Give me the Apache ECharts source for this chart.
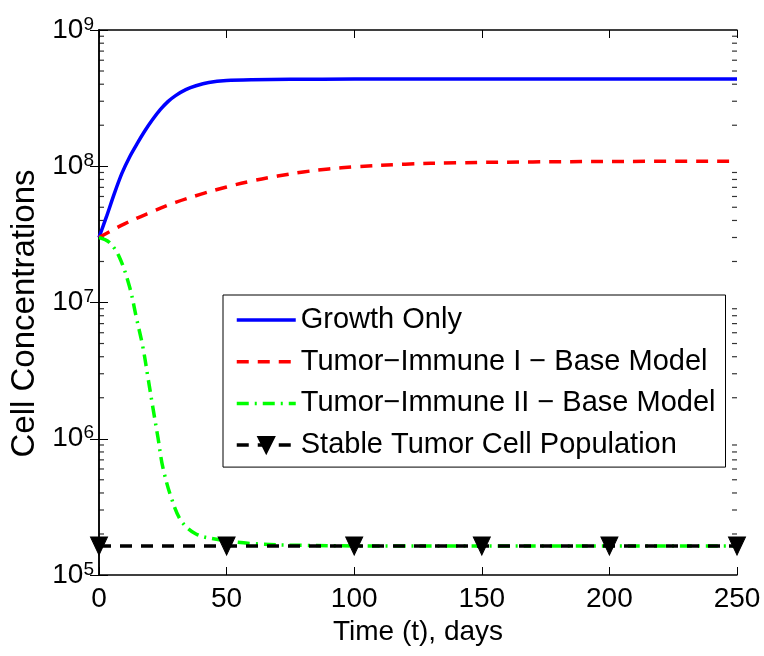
<!DOCTYPE html>
<html>
<head>
<meta charset="utf-8">
<title>Cell Concentrations</title>
<script src="https://cdn.jsdelivr.net/npm/echarts@6/dist/echarts.min.js"></script>
<style>
  html, body { margin: 0; padding: 0; background: #fff; }
  #chart { width: 764px; height: 656px; }
</style>
</head>
<body>
<div id="chart"></div>
<script>
// values (log axis)
const growthT = [0, 3, 6, 9, 12, 15, 18, 21, 24, 27, 30, 34, 38, 43, 50, 60, 75, 100, 250];
const growthN = [3.0e7, 4.3e7, 6.3e7, 8.9e7, 1.17e8, 1.47e8, 1.82e8, 2.2e8, 2.6e8, 2.98e8, 3.3e8, 3.65e8, 3.9e8, 4.12e8, 4.26e8, 4.32e8, 4.35e8, 4.36e8, 4.36e8];

const tumor1T = [0, 10, 20, 30, 40, 50, 60, 70, 80, 90, 100, 120, 140, 170, 200, 250];
const tumor1N = [3.0e7, 3.78e7, 4.57e7, 5.43e7, 6.24e7, 7.05e7, 7.8e7, 8.47e7, 9.08e7, 9.55e7, 9.89e7, 1.035e8, 1.06e8, 1.076e8, 1.084e8, 1.09e8];

const tumor2T = [0, 4, 8, 12, 14.6, 17.2, 19.2, 21.1, 23.1, 25, 28.3, 32.2, 38, 46, 60, 80, 120, 250];
const tumor2N = [3.0e7, 2.77e7, 2.15e7, 1.30e7, 7.8e6, 4.7e6, 2.8e6, 1.7e6, 1.02e6, 6.2e5, 3.7e5, 2.5e5, 2.0e5, 1.83e5, 1.70e5, 1.65e5, 1.63e5, 1.63e5];

const stableT = [0, 50, 100, 150, 200, 250];
const stableN = [1.63e5, 1.63e5, 1.63e5, 1.63e5, 1.63e5, 1.63e5];

const seriesNames = [
  'Growth Only',
  'Tumor\u2212Immune I \u2212 Base Model',
  'Tumor\u2212Immune II \u2212 Base Model',
  'Stable Tumor Cell Population'
];

// minor ticks of the log axis (2..9 x 10^n)
const minorTicks = [];
for (let e = 5; e < 9; e++) {
  for (let m = 2; m <= 9; m++) minorTicks.push(m * Math.pow(10, e));
}

const font = '"Liberation Sans", Arial, Helvetica, sans-serif';
const zip = (xs, ys) => xs.map((x, i) => [x, ys[i]]);

const chart = echarts.init(document.getElementById('chart'));

const tickSeries = (x, off) => ({
  type: 'scatter',
  data: minorTicks.map(v => [x, v]),
  symbol: 'rect',
  symbolSize: [5, 1.2],
  symbolOffset: [off, 0],
  itemStyle: { color: '#000' },
  silent: true,
  clip: false,
  z: 1
});

// plain lines in the legend: hide the symbol that echarts puts on the line icon
const hidden = { opacity: 0 };

const option = {
  animation: false,
  backgroundColor: '#fff',
  textStyle: { fontFamily: font },
  grid: { left: 97, right: 27, top: 30, bottom: 81 },
  legend: {
    data: [
      { name: seriesNames[0], itemStyle: hidden },
      { name: seriesNames[1], itemStyle: hidden },
      { name: seriesNames[2], itemStyle: hidden },
      { name: seriesNames[3] }
    ],
    left: 223,
    top: 295,
    orient: 'vertical',
    backgroundColor: '#fff',
    borderColor: '#000',
    borderWidth: 1,
    padding: [10, 10, 7, 12],
    itemGap: 11.7,
    itemWidth: 59,
    itemHeight: 20,
    selectedMode: false,
    lineStyle: { width: 3.5 },
    textStyle: { fontFamily: font, fontSize: 29, lineHeight: 30, color: '#000' }
  },
  xAxis: [{
    type: 'value',
    min: 0,
    max: 250,
    interval: 50,
    name: 'Time (t), days',
    nameLocation: 'middle',
    nameGap: 41,
    nameTextStyle: { fontFamily: font, fontSize: 28, color: '#000' },
    axisLine: { lineStyle: { color: '#000', width: 1.5 } },
    axisTick: { inside: true, length: 8, lineStyle: { color: '#000' } },
    axisLabel: { fontFamily: font, fontSize: 28, color: '#000', margin: 10 },
    splitLine: { show: false }
  }, {
    type: 'value',
    position: 'top',
    min: 0,
    max: 250,
    interval: 50,
    axisLine: { lineStyle: { color: '#000', width: 1.5 } },
    axisTick: { inside: true, length: 8, lineStyle: { color: '#000' } },
    axisLabel: { show: false },
    splitLine: { show: false }
  }],
  yAxis: [{
    type: 'log',
    logBase: 10,
    min: 1e5,
    max: 1e9,
    splitNumber: 4,
    name: 'Cell Concentrations',
    nameLocation: 'middle',
    nameGap: 58,
    nameTextStyle: { fontFamily: font, fontSize: 33, color: '#000', padding: [0, 22, 0, 0] },
    axisLine: { show: true, lineStyle: { color: '#000', width: 1.5 } },
    axisTick: { inside: true, length: 9, lineStyle: { color: '#000' } },
    axisLabel: {
      margin: 5,
      showMinLabel: true,
      showMaxLabel: true,
      formatter: v => '{b|10}{s|' + Math.round(Math.log10(v)) + '}',
      rich: {
        b: { fontFamily: font, fontSize: 28, lineHeight: 30, color: '#000', verticalAlign: 'middle' },
        s: { fontFamily: font, fontSize: 19, lineHeight: 8, color: '#000', verticalAlign: 'top' }
      }
    },
    splitLine: { show: false }
  }, {
    type: 'log',
    logBase: 10,
    position: 'right',
    min: 1e5,
    max: 1e9,
    splitNumber: 4,
    axisLine: { show: true, lineStyle: { color: '#000', width: 1.5 } },
    axisTick: { inside: true, length: 9, lineStyle: { color: '#000' } },
    axisLabel: { show: false },
    splitLine: { show: false }
  }],
  series: [
    tickSeries(0, 2.5),
    tickSeries(250, -2.5),
    {
      name: seriesNames[0],
      type: 'line',
      data: zip(growthT, growthN),
      symbol: 'none',
      smooth: 0.3,
      lineStyle: { color: '#0000ff', width: 3.5 },
      itemStyle: { color: '#0000ff' },
      z: 3
    },
    {
      name: seriesNames[1],
      type: 'line',
      data: zip(tumor1T, tumor1N),
      symbol: 'none',
      smooth: 0.35,
      lineStyle: { color: '#ff0000', width: 3.5, type: [12, 9] },
      itemStyle: { color: '#ff0000' },
      z: 3
    },
    {
      name: seriesNames[2],
      type: 'line',
      data: zip(tumor2T, tumor2N),
      symbol: 'none',
      smooth: 0.35,
      lineStyle: { color: '#00ff00', width: 3.5, type: [12, 6, 2, 6] },
      itemStyle: { color: '#00ff00' },
      z: 3
    },
    {
      name: seriesNames[3],
      type: 'line',
      data: zip(stableT, stableN),
      symbol: 'triangle',
      symbolSize: [17, 18],
      symbolRotate: 180,
      showAllSymbol: true,
      clip: false,
      lineStyle: { color: '#000', width: 3.5, type: [12, 9] },
      itemStyle: { color: '#000', borderColor: '#000', borderWidth: 1 },
      z: 4
    }
  ]
};

chart.setOption(option);
</script>
</body>
</html>
